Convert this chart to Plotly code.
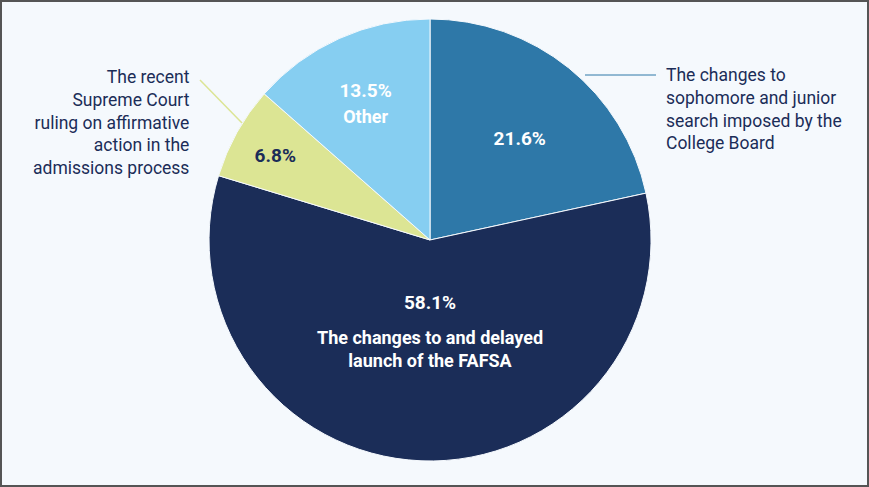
import plotly.graph_objects as go

# share of respondents, clockwise from 12 o'clock
labels = [
    "The changes to sophomore and junior search imposed by the College Board",
    "The changes to and delayed launch of the FAFSA",
    "The recent Supreme Court ruling on affirmative action in the admissions process",
    "Other",
]
values = [21.6, 58.1, 6.8, 13.5]
colors = ["#2e78a8", "#1b2d58", "#dce594", "#86cef1"]

gap = "<span style='font-size:4px'> </span>"
pad = "&nbsp;&nbsp;&nbsp;&nbsp;"


def big(s):
    return "<span style='font-size:19px'><b>" + s + "</b></span>"


def mid(s):
    return "<span style='font-size:18px'><b>" + s + "</b></span>"


# small base font -> thin lines, used as spacers
inside_text = [
    gap + "<br>" + gap + "<br>" + pad + big("21.6%"),
    gap + "<br>" + gap + "<br>" + gap + "<br>"
    + big("58.1%") + "<br>" + gap + "<br>" + gap + "<br>"
    + mid("The changes to and delayed") + "<br>" + gap + "<br>"
    + mid("launch of the FAFSA"),
    gap + "<br>" + gap + "<br>" + pad + big("6.8%"),
    gap + "<br>" + gap + "<br>" + big("13.5%") + "<br>" + gap + "<br>" + mid("Other"),
]
text_colors = ["white", "white", "#1b2d58", "white"]
text_sizes = [9, 9, 9, 10]

navy = "#1b2d58"
bg = "#f5f9fd"

fig = go.Figure(go.Pie(
    labels=labels,
    values=values,
    text=inside_text,
    texttemplate="%{text}",
    textposition="inside",
    insidetextorientation="horizontal",
    textfont=dict(family="Roboto", size=text_sizes, color=text_colors),
    marker=dict(colors=colors, line=dict(color=bg, width=1)),
    sort=False,
    direction="clockwise",
    rotation=0,
    domain=dict(x=[0.2405, 0.7492], y=[0.0534, 0.961]),
    showlegend=False,
    hoverinfo="label+percent",
))

fig.add_annotation(
    x=664 / 869, y=1 - 63 / 487, xref="paper", yref="paper",
    xanchor="left", yanchor="top", align="left", showarrow=False,
    text="The changes to<br>sophomore and junior<br>search imposed by the<br>College Board",
    font=dict(family="Roboto", size=17.5, color=navy),
)
fig.add_annotation(
    x=192 / 869, y=1 - 65 / 487, xref="paper", yref="paper",
    xanchor="right", yanchor="top", align="right", showarrow=False,
    text="The recent<br>Supreme Court<br>ruling on affirmative<br>action in the<br>admissions process",
    font=dict(family="Roboto", size=17.5, color=navy),
)

# leader lines
fig.add_shape(type="line", xref="paper", yref="paper",
              x0=585 / 869, y0=1 - 75 / 487, x1=656 / 869, y1=1 - 75 / 487,
              line=dict(color="#2e78a8", width=1))
fig.add_shape(type="line", xref="paper", yref="paper",
              x0=200 / 869, y0=1 - 80 / 487, x1=242 / 869, y1=1 - 123 / 487,
              line=dict(color="#dce594", width=1.5))

# frame
fig.add_shape(type="rect", xref="paper", yref="paper", x0=0, y0=0, x1=1, y1=1,
              line=dict(color="#555555", width=4))

fig.update_layout(
    width=869, height=487,
    margin=dict(l=0, r=0, t=0, b=0),
    paper_bgcolor=bg,
    plot_bgcolor=bg,
    font=dict(family="Roboto"),
)

fig.write_html("out.html", config={"displayModeBar": False},
               post_script="document.body.style.margin='0';document.body.style.overflow='hidden';")
